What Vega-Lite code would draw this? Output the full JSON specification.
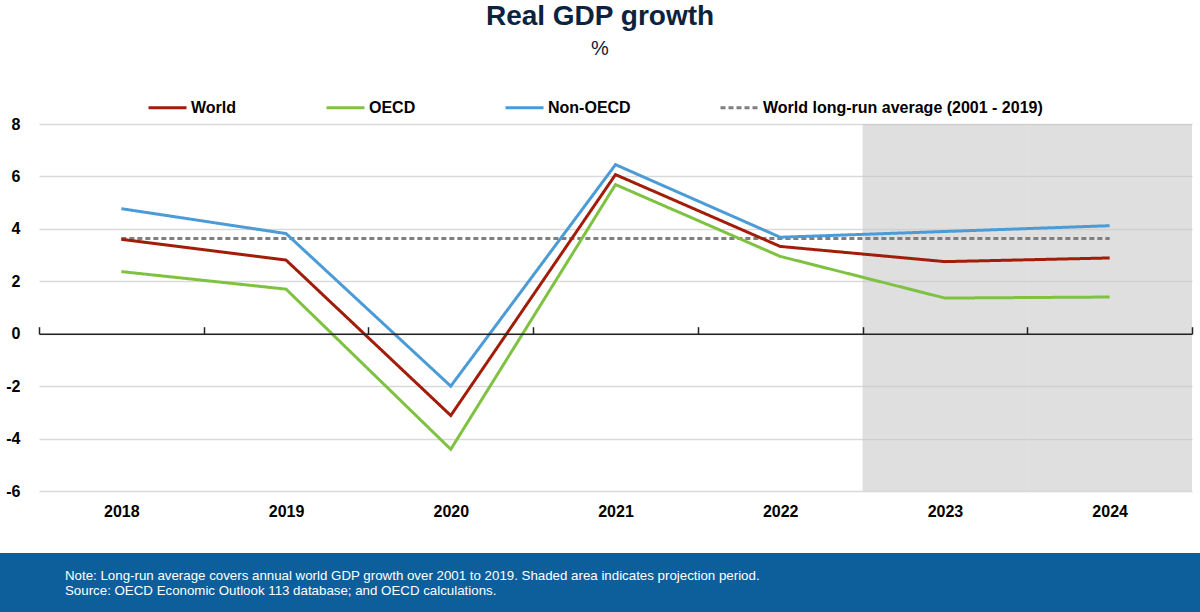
{
  "$schema": "https://vega.github.io/schema/vega-lite/v6.json",
  "padding": {"left": 0, "right": 0, "top": 3, "bottom": 0},
  "background": "white",
  "spacing": 33,
  "title": {
    "text": "Real GDP growth",
    "subtitle": "%",
    "anchor": "middle",
    "font": "Liberation Sans",
    "fontSize": 28,
    "fontWeight": "bold",
    "color": "#0c2340",
    "subtitleFont": "Liberation Sans",
    "subtitleFontSize": 20,
    "subtitleColor": "#0c2340",
    "subtitlePadding": 8,
    "offset": 28
  },
  "config": {
    "view": {"stroke": null},
    "font": "Liberation Sans"
  },
  "vconcat": [
    {
      "width": 1192,
      "height": 367,
      "layer": [
        {
          "data": {"values": [{"year": "2023"}, {"year": "2024"}]},
          "mark": {"type": "rect", "color": "#c9c9c9", "opacity": 0.6},
          "encoding": {
            "x": {
              "field": "year",
              "type": "ordinal",
              "scale": {"type": "band", "paddingInner": 0, "paddingOuter": 0, "range": [39, 1192]}
            }
          }
        },
        {
          "data": {"values": [
            {"year": "2018", "series": "World long-run average (2001 - 2019)", "value": 3.63},
            {"year": "2019", "series": "World long-run average (2001 - 2019)", "value": 3.63},
            {"year": "2020", "series": "World long-run average (2001 - 2019)", "value": 3.63},
            {"year": "2021", "series": "World long-run average (2001 - 2019)", "value": 3.63},
            {"year": "2022", "series": "World long-run average (2001 - 2019)", "value": 3.63},
            {"year": "2023", "series": "World long-run average (2001 - 2019)", "value": 3.63},
            {"year": "2024", "series": "World long-run average (2001 - 2019)", "value": 3.63},
            {"year": "2018", "series": "OECD", "value": 2.37},
            {"year": "2019", "series": "OECD", "value": 1.7},
            {"year": "2020", "series": "OECD", "value": -4.41},
            {"year": "2021", "series": "OECD", "value": 5.69},
            {"year": "2022", "series": "OECD", "value": 2.95},
            {"year": "2023", "series": "OECD", "value": 1.36},
            {"year": "2024", "series": "OECD", "value": 1.4},
            {"year": "2018", "series": "Non-OECD", "value": 4.77},
            {"year": "2019", "series": "Non-OECD", "value": 3.82},
            {"year": "2020", "series": "Non-OECD", "value": -2.0},
            {"year": "2021", "series": "Non-OECD", "value": 6.45},
            {"year": "2022", "series": "Non-OECD", "value": 3.68},
            {"year": "2023", "series": "Non-OECD", "value": 3.9},
            {"year": "2024", "series": "Non-OECD", "value": 4.12},
            {"year": "2018", "series": "World", "value": 3.6},
            {"year": "2019", "series": "World", "value": 2.81},
            {"year": "2020", "series": "World", "value": -3.12},
            {"year": "2021", "series": "World", "value": 6.07},
            {"year": "2022", "series": "World", "value": 3.33},
            {"year": "2023", "series": "World", "value": 2.75},
            {"year": "2024", "series": "World", "value": 2.89}
          ]},
          "mark": {"type": "line", "strokeCap": "butt"},
          "encoding": {
            "x": {
              "field": "year",
              "type": "ordinal",
              "bandPosition": 0.5,
              "scale": {"type": "band", "paddingInner": 0, "paddingOuter": 0, "range": [39, 1192]},
              "axis": {
                "title": null,
                "orient": "bottom",
                "offset": -157.3,
                "labelAngle": 0,
                "labelAlign": "center",
                "domain": true,
                "domainColor": "#222222",
                "domainWidth": 1.5,
                "ticks": true,
                "tickBand": "extent",
                "tickSize": -7,
                "tickColor": "#222222",
                "tickWidth": 1.5,
                "grid": false,
                "labelPadding": 185,
                "labelFont": "Liberation Sans",
                "labelFontSize": 16,
                "labelFontWeight": "bold",
                "labelColor": "#000000"
              }
            },
            "y": {
              "field": "value",
              "type": "quantitative",
              "scale": {"domain": [-6, 8], "nice": false, "zero": false},
              "axis": {
                "title": null,
                "offset": -39,
                "values": [-6, -4, -2, 0, 2, 4, 6, 8],
                "labelExpr": "toString(datum.value)",
                "domain": false,
                "ticks": false,
                "gridColor": "#d9d9d9",
                "gridWidth": 1.5,
                "labelPadding": 19,
                "labelFont": "Liberation Sans",
                "labelFontSize": 16,
                "labelFontWeight": "bold",
                "labelColor": "#000000"
              }
            },
            "color": {
              "field": "series",
              "type": "nominal",
              "scale": {
                "domain": ["World", "OECD", "Non-OECD", "World long-run average (2001 - 2019)"],
                "range": ["#a21c0a", "#7fc241", "#4b9bd6", "#7f7f7f"]
              },
              "legend": {
                "title": null,
                "orient": "none",
                "direction": "horizontal",
                "legendX": 147,
                "legendY": -37,
                "symbolType": "stroke",
                "symbolSize": 1444,
                "labelOffset": 3,
                "columnPadding": 83,
                "labelFont": "Liberation Sans",
                "labelFontSize": 16,
                "labelFontWeight": "bold",
                "labelColor": "#000000",
                "labelLimit": 400
              }
            },
            "strokeDash": {
              "field": "series",
              "type": "nominal",
              "scale": {
                "domain": ["World", "OECD", "Non-OECD", "World long-run average (2001 - 2019)"],
                "range": [[1, 0], [1, 0], [1, 0], [5, 3]]
              }
            },
            "strokeWidth": {
              "field": "series",
              "type": "nominal",
              "scale": {
                "domain": ["World", "OECD", "Non-OECD", "World long-run average (2001 - 2019)"],
                "range": [3, 3, 3, 1.5]
              }
            }
          }
        }
      ]
    },
    {
      "width": 1200,
      "height": 59,
      "view": {"fill": "#0d5f9b", "stroke": null},
      "title": {
        "text": [
          "Note: Long-run average covers annual world GDP growth over 2001 to 2019. Shaded area indicates projection period.",
          "Source: OECD Economic Outlook 113 database; and OECD calculations."
        ],
        "anchor": "start",
        "orient": "top",
        "offset": -44,
        "dx": 65,
        "font": "Liberation Sans",
        "fontSize": 13.3,
        "fontWeight": "normal",
        "lineHeight": 14.5,
        "color": "#ffffff"
      },
      "data": {"values": [{"t": ""}]},
      "mark": {"type": "text"},
      "encoding": {"text": {"field": "t", "type": "nominal"}}
    }
  ]
}
